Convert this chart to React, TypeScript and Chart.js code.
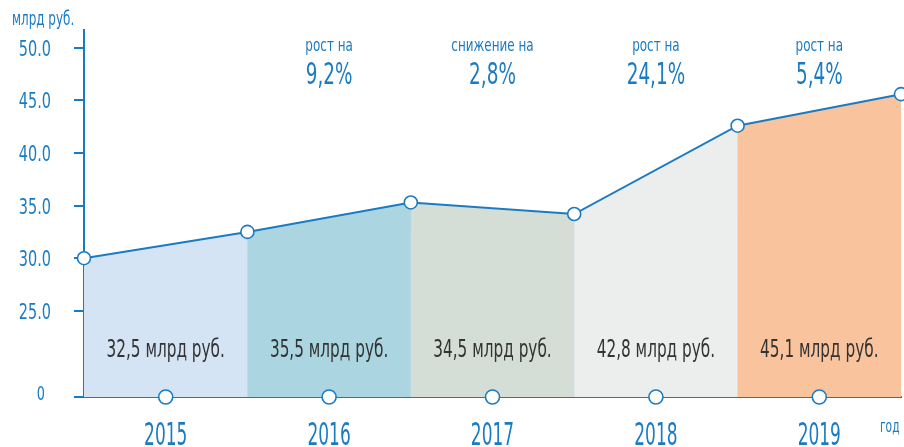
import React, { useEffect, useRef } from 'react';
import { Chart, registerables } from 'chart.js';
Chart.register(...registerables);

const years = ['2015', '2016', '2017', '2018', '2019'];
const pointValues = [30.0, 32.5, 35.3, 34.2, 42.6, 45.6];
const bandLabels = ['32,5 млрд руб.', '35,5 млрд руб.', '34,5 млрд руб.', '42,8 млрд руб.', '45,1 млрд руб.'];
const changeTitles = ['', 'рост на', 'снижение на', 'рост на', 'рост на'];
const changeValues = ['', '9,2%', '2,8%', '24,1%', '5,4%'];
const yTickValues = [25, 30, 35, 40, 45, 50];
const yMin = 16.8;
const yMax = 51.7;
const yUnit = 'млрд руб.';
const xUnit = 'год';

const bandColors = ['#d5e4f4', '#aad5e1', '#d4ddd6', '#eceeed', '#f9c39e'];
const BLUE = '#1b7bc2';
const DARK = '#333333';
const FONT = "'DejaVu Sans Condensed', 'DejaVu Sans', sans-serif";

function drawText(
  ctx: CanvasRenderingContext2D,
  text: string,
  x: number,
  y: number,
  size: number,
  color: string,
  align: CanvasTextAlign,
  sx: number
) {
  ctx.save();
  ctx.translate(x, y);
  ctx.scale(sx, 1);
  ctx.font = `${size}px ${FONT}`;
  ctx.fillStyle = color;
  ctx.textAlign = align;
  ctx.textBaseline = 'alphabetic';
  ctx.fillText(text, 0, 0);
  ctx.restore();
}

export default function App() {
  const ref = useRef<HTMLCanvasElement | null>(null);
  useEffect(() => {
    if (!ref.current) return;
    const bandDatasets = years.map((_, i) => ({
      type: 'line' as const,
      data: [
        { x: i, y: pointValues[i] },
        { x: i + 1, y: pointValues[i + 1] },
      ],
      borderWidth: 0,
      borderColor: 'rgba(0,0,0,0)',
      backgroundColor: bandColors[i],
      fill: 'start' as const,
      pointRadius: 0,
      tension: 0,
    }));
    const baseFill = {
      type: 'line' as const,
      data: pointValues.map((v, i) => ({ x: i, y: v })),
      borderWidth: 0,
      borderColor: 'rgba(0,0,0,0)',
      backgroundColor: '#c9dbe2',
      fill: 'start' as const,
      pointRadius: 0,
      tension: 0,
    };
    const annot = {
      id: 'annot',
      afterDatasetsDraw(chart: any) {
        const ctx = chart.ctx as CanvasRenderingContext2D;
        const xs = chart.scales.x;
        const ys = chart.scales.y;
        years.forEach((_, i) => {
          const cx = xs.getPixelForValue(i + 0.5);
          if (changeTitles[i]) drawText(ctx, changeTitles[i], cx, 51, 18, BLUE, 'center', 0.74);
          if (changeValues[i]) drawText(ctx, changeValues[i], cx, 84, 31, BLUE, 'center', 0.66);
          drawText(ctx, bandLabels[i], cx, 357, 25, DARK, 'center', 0.68);
        });
        // y tick labels from the y scale
        ys.ticks.forEach((t: any) => {
          const py = ys.getPixelForValue(t.value);
          const label = t.label ?? '';
          if (t.value === yMin) drawText(ctx, String(label), 45, py + 3, 19, BLUE, 'right', 0.75);
          else drawText(ctx, String(label), 51, py + 8, 22, BLUE, 'right', 0.73);
        });
        // x tick labels from the x scale
        xs.ticks.forEach((t: any, i: number) => {
          const px = xs.getPixelForValue(t.value);
          drawText(ctx, String(t.label ?? years[i]), px, 445, 31.5, BLUE, 'center', 0.6);
        });
        drawText(ctx, yUnit, 12, 25, 19, BLUE, 'left', 0.7);
        drawText(ctx, xUnit, 880, 432, 17, BLUE, 'left', 0.7);
      },
    };
    const chart = new Chart(ref.current, {
      type: 'line',
      data: {
        datasets: [
          {
            type: 'scatter' as const,
            data: years.map((_, i) => ({ x: i + 0.5, y: yMin })),
            pointRadius: 7,
            pointBorderWidth: 1.6,
            pointBackgroundColor: '#ffffff',
            pointBorderColor: BLUE,
            showLine: false,
            clip: false as any,
          },
          {
            type: 'line' as const,
            data: pointValues.map((v, i) => ({ x: i, y: v })),
            borderColor: BLUE,
            borderWidth: 2,
            pointRadius: 6.5,
            pointBorderWidth: 1.6,
            pointBackgroundColor: '#ffffff',
            pointBorderColor: BLUE,
            fill: false,
            tension: 0,
            clip: false as any,
          },
          ...bandDatasets,
          baseFill,
        ] as any,
      },
      options: {
        animation: false,
        responsive: true,
        maintainAspectRatio: false,
        layout: { autoPadding: false, padding: { top: 30, right: 3, left: 0, bottom: 0 } },
        plugins: { legend: { display: false }, tooltip: { enabled: false } },
        scales: {
          x: {
            type: 'linear',
            min: 0,
            max: 5,
            afterBuildTicks: (s: any) => {
              s.ticks = years.map((_, i) => ({ value: i + 0.5 }));
            },
            afterFit: (s: any) => {
              s.height = 50;
            },
            grid: { display: false, drawTicks: false },
            border: { display: true, color: BLUE, width: 2 },
            ticks: {
              display: false,
              autoSkip: false,
              maxRotation: 0,
              callback: (v: any) => years[Math.floor(Number(v))] ?? '',
            },
          },
          y: {
            type: 'linear',
            min: yMin,
            max: yMax,
            afterBuildTicks: (s: any) => {
              s.ticks = [yMin, ...yTickValues].map((v) => ({ value: v }));
            },
            afterFit: (s: any) => {
              s.width = 84;
            },
            grid: {
              drawOnChartArea: false,
              drawTicks: true,
              tickLength: 10,
              color: BLUE,
              lineWidth: 2,
            },
            border: { display: true, color: BLUE, width: 2 },
            ticks: {
              display: false,
              callback: (v: any) => (Number(v) === yMin ? '0' : Number(v).toFixed(1)),
            },
          },
        },
      },
      plugins: [annot],
    });
    return () => chart.destroy();
  }, []);
  return (
    <div style={{ position: 'fixed', left: 0, top: 0, width: 904, height: 447, background: '#ffffff' }}>
      <canvas ref={ref} />
    </div>
  );
}
